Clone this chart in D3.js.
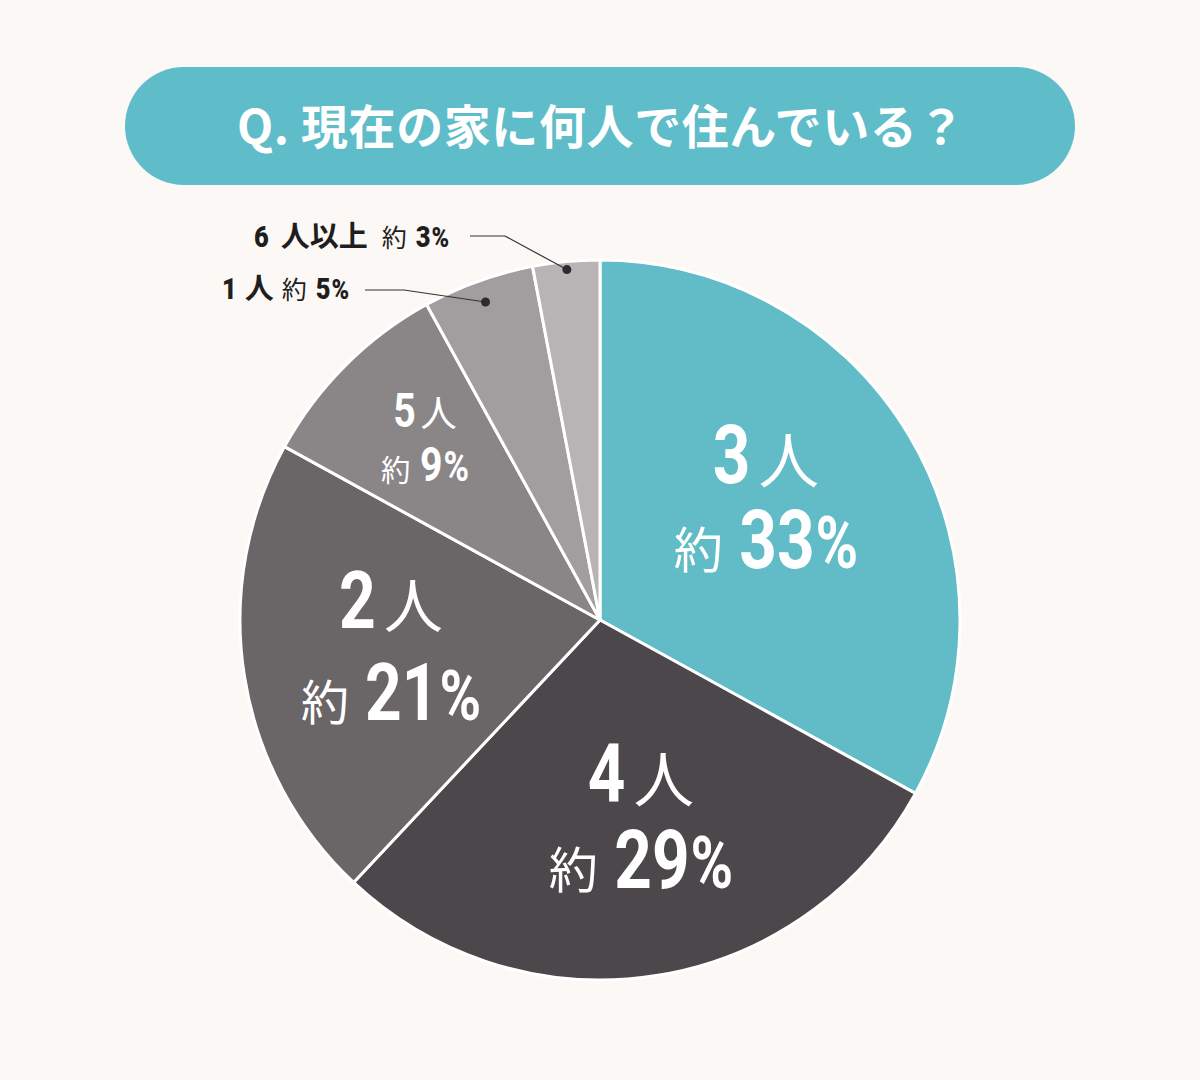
<!DOCTYPE html>
<html><head><meta charset="utf-8">
<script src="https://cdn.jsdelivr.net/npm/d3@7"></script>
<style>
html,body{margin:0;padding:0;background:#fcf8f5;}
svg{display:block;}
</style></head>
<body>
<svg id="chart" width="1200" height="1080"></svg>
<script>
// ---- data ----
const title = "Q. 現在の家に何人で住んでいる？";
const categories = ["3", "4", "2", "5", "1", "6"];
const unitLabels = ["人", "人", "人", "人", "人", "人以上"];
const values = [33, 29, 21, 9, 5, 3];
const prefix = "約";

// ---- style / layout ----
const colors = ["#61bcc8", "#4b474a", "#6a6567", "#8a8587", "#a29e9f", "#b8b4b5"];
const W = 1200, H = 1080;
const cx = 600, cy = 620, R = 360;
const digitFont = "Roboto,'DejaVu Sans',sans-serif";
const cjkFont = "'Noto Sans CJK JP','Noto Sans',sans-serif";

const svg = d3.select("#chart");
svg.append("rect").attr("width", W).attr("height", H).attr("fill", "#fcf8f5");

// title pill
svg.append("rect").attr("x", 125).attr("y", 67).attr("width", 950).attr("height", 118)
  .attr("rx", 59).attr("ry", 59).attr("fill", "#5fbcc9");
svg.append("text").attr("x", 601).attr("y", 144).attr("text-anchor", "middle")
  .attr("font-family", cjkFont).attr("font-weight", 700).attr("font-size", 47)
  .attr("letter-spacing", 0.6).attr("fill", "#ffffff").text(title);

// pie
const data = categories.map((c, i) => ({cat: c, unit: unitLabels[i], value: values[i], color: colors[i]}));
const pie = d3.pie().value(d => d.value).sort(null);
const arcs = pie(data);
const arc = d3.arc().innerRadius(0).outerRadius(R);
const g = svg.append("g").attr("transform", `translate(${cx},${cy})`);
g.selectAll("path.slice").data(arcs).join("path").attr("class", "slice")
  .attr("d", arc).attr("fill", d => d.data.color)
  .attr("stroke", "#ffffff").attr("stroke-width", 3).attr("stroke-linejoin", "round");

// helper: lay out a line of mixed pieces
function drawLine(pieces, x, y, anchor, fill, sxNum) {
  const grp = svg.append("g");
  const items = pieces.map(p => {
    const t = grp.append("text").attr("y", 0).attr("fill", fill)
      .attr("font-family", p.num ? digitFont : cjkFont)
      .attr("font-weight", p.w).attr("font-size", p.size).text(p.t);
    const sx = p.num ? sxNum : 1;
    const w = t.node().getComputedTextLength() * sx;
    return {t, sx, w, gap: p.gap || 0};
  });
  let total = 0;
  items.forEach(it => total += it.gap + it.w);
  let cur = anchor === "middle" ? x - total / 2 : x;
  items.forEach(it => {
    cur += it.gap;
    it.t.attr("transform", `translate(${cur},${y}) scale(${it.sx},1)`);
    cur += it.w;
  });
}

// inner labels (large)
const inner = [
  {i: 0, x: 766, y: 483, size: 82, gap: 85},
  {i: 1, x: 641, y: 802, size: 82, gap: 86},
  {i: 2, x: 391, y: 628, size: 80, gap: 92},
  {i: 3, x: 425, y: 427, size: 49, gap: 54}
];
inner.forEach(L => {
  const d = data[L.i], s = L.size;
  drawLine([
    {t: d.cat, num: true, w: 700, size: s},
    {t: d.unit, w: 400, size: s * 0.74, gap: s * 0.1}
  ], L.x, L.y, "middle", "#fff", 0.8);
  drawLine([
    {t: prefix, w: 400, size: s * 0.6},
    {t: String(d.value), num: true, w: 700, size: s, gap: s * 0.2},
    {t: "%", num: true, w: 700, size: s * 0.88, gap: 1}
  ], L.x, L.y + L.gap, "middle", "#fff", 0.8);
});

// outer labels with leaders
const outer = [
  {i: 5, tx: 254, ty: 247, lx0: 470, ly: 236, lx1: 505, dotR: 352, gaps: [12, 14, 9]},
  {i: 4, tx: 222, ty: 299, lx0: 365, ly: 290, lx1: 404, dotR: 338, gaps: [8, 8, 9]}
];
outer.forEach(L => {
  const a = arcs[L.i];
  const mid = (a.startAngle + a.endAngle) / 2;
  const dx = cx + L.dotR * Math.sin(mid), dy = cy - L.dotR * Math.cos(mid);
  svg.append("polyline").attr("points", `${L.lx0},${L.ly} ${L.lx1},${L.ly} ${dx},${dy}`)
    .attr("fill", "none").attr("stroke", "#333").attr("stroke-width", 1.2);
  svg.append("circle").attr("cx", dx).attr("cy", dy).attr("r", 4.5).attr("fill", "#2e2a2d");
  const d = data[L.i];
  drawLine([
    {t: d.cat, num: true, w: 900, size: 30},
    {t: d.unit, w: 700, size: 29, gap: L.gaps[0]},
    {t: prefix, w: 400, size: 25, gap: L.gaps[1]},
    {t: String(d.value), num: true, w: 900, size: 30, gap: L.gaps[2]},
    {t: "%", num: true, w: 900, size: 28, gap: 1}
  ], L.tx, L.ty, "start", "#1e1e1e", 0.85);
});
</script>
</body></html>
